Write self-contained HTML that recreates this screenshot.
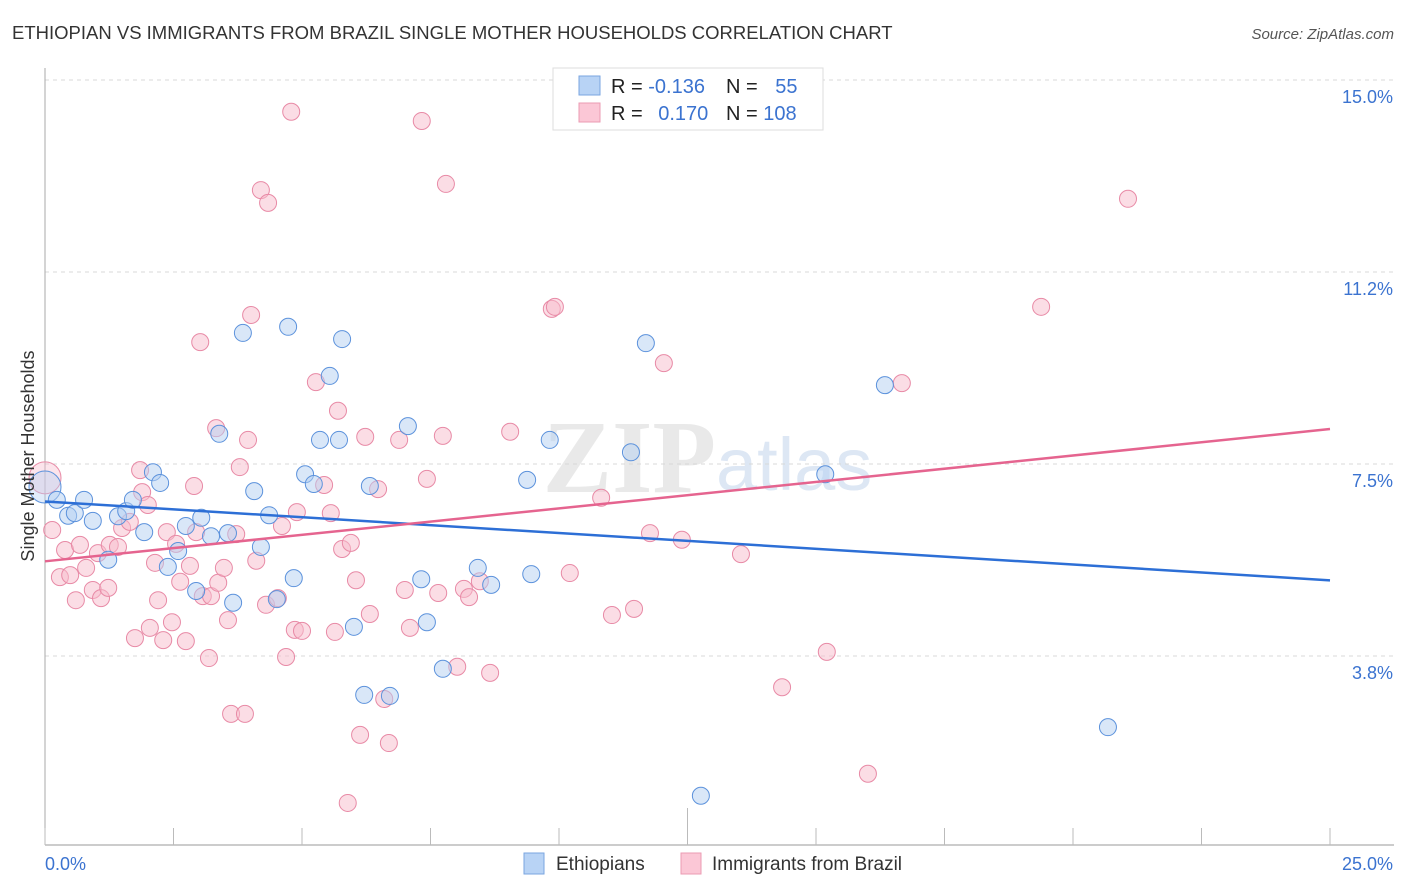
<!DOCTYPE html>
<html><head><meta charset="utf-8"><style>
body{margin:0;background:#fff;font-family:"Liberation Sans",sans-serif;}
svg{display:block}
</style></head><body>
<svg id="chart" width="1406" height="892" xmlns="http://www.w3.org/2000/svg">
<text x="12" y="39" font-size="18.5" fill="#333">ETHIOPIAN VS IMMIGRANTS FROM BRAZIL SINGLE MOTHER HOUSEHOLDS CORRELATION CHART</text>
<text x="1394" y="39" font-size="15" fill="#555" font-style="italic" text-anchor="end">Source: ZipAtlas.com</text>
<text x="716" y="492" font-size="104" fill="#e9e9e9" text-anchor="end" font-family="Liberation Serif" font-weight="bold">ZIP</text>
<text x="716" y="490" font-size="74" fill="#dde7f4">atlas</text>
<g id="grid"></g>
<g id="axes"></g>
<g id="pts"></g>
<g id="trend"></g>
<text transform="translate(34,456) rotate(-90)" font-size="18" fill="#333" text-anchor="middle">Single Mother Households</text>
<g>
<rect x="553" y="68" width="270" height="62" fill="#fff" stroke="#ddd"/>
<rect x="579" y="76" width="21" height="19" fill="#b8d3f5" stroke="#7aa6e0"/>
<rect x="579" y="103" width="21" height="19" fill="#fbc7d6" stroke="#eb9bb3"/>
<text x="611" y="93" font-size="20" fill="#222">R = <tspan fill="#3b73d0">-0.136</tspan></text>
<text x="726" y="93" font-size="20" fill="#222">N = <tspan fill="#3b73d0" dx="12">55</tspan></text>
<text x="611" y="120" font-size="20" fill="#222">R = <tspan fill="#3b73d0" dx="10">0.170</tspan></text>
<text x="726" y="120" font-size="20" fill="#222">N = <tspan fill="#3b73d0">108</tspan></text>
</g>
<g>
<rect x="524" y="853" width="20" height="21" fill="#b8d3f5" stroke="#7aa6e0"/>
<text x="556" y="870" font-size="19" fill="#333">Ethiopians</text>
<rect x="681" y="853" width="20" height="21" fill="#fbc7d6" stroke="#eb9bb3"/>
<text x="712" y="870" font-size="19" fill="#333">Immigrants from Brazil</text>
</g>
</svg>
<script>
const blueX=[0,0.23,0.45,0.58,0.76,0.93,1.23,1.42,1.58,1.71,1.93,2.10,2.24,2.39,2.59,2.74,2.94,3.04,3.23,3.39,3.56,3.66,3.85,4.07,4.20,4.36,4.51,4.73,4.84,5.06,5.23,5.35,5.54,5.72,5.78,6.01,6.21,6.32,6.71,7.06,7.32,7.43,7.74,8.42,8.68,9.38,9.46,9.82,11.40,11.69,12.76,15.18,16.34,20.68];
const blueY=[7.05,6.80,6.49,6.54,6.80,6.39,5.63,6.48,6.58,6.80,6.17,7.34,7.13,5.49,5.80,6.29,5.02,6.45,6.09,8.09,6.15,4.79,10.06,6.97,5.88,6.50,4.86,10.18,5.27,7.30,7.11,7.97,9.22,7.97,9.94,4.32,2.99,7.07,2.97,8.24,5.25,4.41,3.50,5.47,5.14,7.19,5.35,7.97,7.73,9.86,1.02,7.30,9.04,2.36];
const pinkX=[0,0.14,0.29,0.39,0.49,0.60,0.68,0.80,0.93,1.03,1.09,1.23,1.26,1.42,1.50,1.65,1.75,1.85,1.89,2.00,2.04,2.14,2.20,2.30,2.37,2.47,2.55,2.63,2.74,2.82,2.90,2.94,3.02,3.07,3.19,3.23,3.33,3.37,3.48,3.56,3.62,3.72,3.79,3.89,3.95,4.01,4.11,4.20,4.30,4.34,4.53,4.61,4.69,4.79,4.86,4.90,5.00,5.27,5.43,5.56,5.64,5.70,5.78,5.89,5.95,6.05,6.13,6.23,6.32,6.48,6.60,6.69,6.89,7.00,7.10,7.33,7.43,7.65,7.74,7.80,8.02,8.15,8.25,8.46,8.66,9.05,9.86,9.92,10.21,10.82,11.03,11.46,11.77,12.04,12.39,13.54,14.34,15.21,16.01,16.67,19.38,21.07];
const pinkY=[7.23,6.21,5.29,5.82,5.33,4.84,5.92,5.47,5.04,5.76,4.88,5.08,5.92,5.88,6.25,6.37,4.10,7.38,6.95,6.70,4.30,5.57,4.84,4.06,6.17,4.41,5.94,5.20,4.04,5.51,7.07,6.17,9.88,4.92,3.71,4.92,8.20,5.18,5.47,4.45,2.62,6.13,7.44,2.62,7.97,10.41,5.61,12.85,4.75,12.60,4.88,6.29,3.73,14.38,4.26,6.56,4.24,9.10,7.09,6.54,4.22,8.54,5.84,0.88,5.96,5.23,2.21,8.03,4.57,7.01,2.91,2.05,7.97,5.04,4.30,14.20,7.21,4.98,8.05,12.97,3.54,5.06,4.90,5.21,3.42,8.13,10.53,10.57,5.37,6.84,4.55,4.67,6.15,9.47,6.02,5.74,3.14,3.83,1.45,9.08,10.57,12.68];
const yTicks=[15.0,11.25,7.5,3.75];
const yTickLabels=["15.0%","11.2%","7.5%","3.8%"];
const xTicks=[0,2.5,5,7.5,10,12.5,15,17.5,20,22.5,25];
const xTickLabels=["0.0%","25.0%"];

const NS="http://www.w3.org/2000/svg";
const X0=45,X1=1330,Y15=80,YPX=51.2;
function sx(v){return X0+(X1-X0)*v/25;}
function sy(v){return Y15+(15-v)*YPX;}
function mk(tag,attrs,parent){const e=document.createElementNS(NS,tag);for(const k in attrs)e.setAttribute(k,attrs[k]);parent.appendChild(e);return e;}
const grid=document.getElementById('grid'),axes=document.getElementById('axes'),pts=document.getElementById('pts'),trend=document.getElementById('trend');
yTicks.forEach((t,i)=>{
  const l=mk('line',{x1:45,x2:1394,y1:sy(t),y2:sy(t),stroke:'#d8d8d8','stroke-dasharray':'4,4'},grid);
  
  
  const tx=mk('text',{x:1393,y:sy(t)+23,'font-size':18,fill:'#3b73d0','text-anchor':'end'},grid);
  tx.textContent=yTickLabels[i];
  
  
});
const ya=mk('line',{x1:45,x2:45,y1:68,y2:845,stroke:'#aaa'},axes);


const xa=mk('line',{x1:45,x2:1394,y1:845,y2:845,stroke:'#bbb','stroke-width':1.5},axes);


xTicks.forEach((t,i)=>{
  const tk=mk('line',{x1:sx(t),x2:sx(t),y1:(i==5?808:828),y2:845,stroke:'#bbb'},axes);
  
  
});
const xl0=mk('text',{x:45,y:870,'font-size':18,fill:'#3b73d0'},axes);
xl0.textContent=xTickLabels[0];


const xl1=mk('text',{x:1393,y:870,'font-size':18,fill:'#3b73d0','text-anchor':'end'},axes);
xl1.textContent=xTickLabels[1];



function drawPts(xs,ys,fill,stroke,name){
  xs.forEach((x,i)=>{
    const c=mk('circle',{cx:sx(x),cy:sy(ys[i]),r:(i==0?16:8.5),fill:fill,'fill-opacity':(i==0?0.4:0.5),stroke:stroke,'stroke-width':1},pts);
    
    
  });
}
drawPts(pinkX,pinkY,'#f8bbcc','#e88aa6','brazil-point');
drawPts(blueX,blueY,'#b3cff2','#5c92dc','ethiopian-point');

function fit(xs,ys){const n=xs.length;let mx=0,my=0;for(let i=0;i<n;i++){mx+=xs[i];my+=ys[i];}mx/=n;my/=n;let a=0,b=0;for(let i=0;i<n;i++){a+=(xs[i]-mx)*(ys[i]-my);b+=(xs[i]-mx)**2;}const s=a/b;return [my-s*mx,s];}
function drawTrend(xs,ys,col,name,adj){const [c,s0]=fit(xs,ys);const s=s0*adj;const l=mk('line',{x1:sx(0),y1:sy(c),x2:sx(25),y2:sy(c+s*25),stroke:col,'stroke-width':2.5},trend);
  
  }
drawTrend(blueX,blueY,'#2d6fd6','ethiopian-trend-line',0.97);
drawTrend(pinkX,pinkY,'#e5648f','brazil-trend-line',1);
</script>
</body></html>
